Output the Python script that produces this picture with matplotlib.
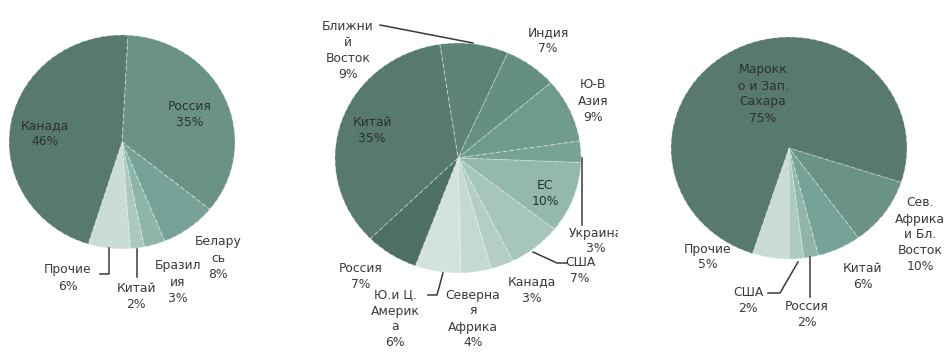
import matplotlib
matplotlib.use("Agg")
import matplotlib.pyplot as plt
from matplotlib.lines import Line2D
from matplotlib.transforms import Bbox

W, H = 949, 356
DPI = 100

# ---- data -------------------------------------------------------------
pie1_names = ["Россия", "Белару\nсь", "Бразил\nия", "Китай", "Прочие", "Канада"]
pie1_values = [35, 8, 3, 2, 6, 46]
pie1_colors = ["#6a9286", "#76a297", "#8db5aa", "#acc9c0", "#cbdcd6", "#587a6e"]

pie2_names = ["Ближни\nй\nВосток", "Индия", "Ю-В\nАзия", "Украина", "ЕС", "США",
              "Канада", "Северна\nя\nАфрика", "Ю.и Ц.\nАмерик\nа", "Россия", "Китай"]
pie2_values = [9, 7, 9, 3, 10, 7, 3, 4, 6, 7, 35]
pie2_colors = ["#5d8377", "#658f82", "#6e9b8e", "#76a396", "#93b8ad", "#a6c5bc",
               "#b4cec6", "#c4d9d2", "#d4e2dd", "#4e6f63", "#587a6e"]

pie3_names = ["Сев.\nАфрика\nи Бл.\nВосток", "Китай", "Россия", "США", "Прочие",
              "Марокк\nо и Зап.\nСахара"]
pie3_values = [10, 6, 2, 2, 5, 75]
pie3_colors = ["#6a9286", "#76a397", "#90b6ab", "#aecbc2", "#c9dbd5", "#587a6e"]

fig = plt.figure(figsize=(W / DPI, H / DPI), dpi=DPI)
fig.patch.set_facecolor("white")

PAD = 1.03


def pie_axes(cx, cy, rx, ry):
    """Axes (in pixel layout) holding a unit pie stretched to rx by ry pixels."""
    ax = fig.add_axes([(cx - rx * PAD) / W, (H - cy - ry * PAD) / H,
                       2 * rx * PAD / W, 2 * ry * PAD / H])
    return ax


def draw_pie(ax, values, colors, start):
    ax.pie(values, colors=colors, startangle=start, counterclock=False, radius=1,
           wedgeprops=dict(edgecolor=(1, 1, 1, 0.45), linewidth=0.7,
                           linestyle=(0, (4, 3))))
    ax.set_aspect("auto")
    ax.set_xlim(-PAD, PAD)
    ax.set_ylim(-PAD, PAD)
    ax.axis("off")


def label(x, y, text, inside=False, clip_right=None):
    t = fig.text(x / W, 1 - y / H, text, ha="center", va="center",
                 fontsize=8.9, family="DejaVu Sans", linespacing=1.3,
                 color="#2b302d" if inside else "#3a3a3a")
    if clip_right is not None:
        t.set_clip_box(Bbox.from_extents(0, 0, clip_right, H))
        t.set_clip_on(True)
    return t


def leader(xs, ys):
    fig.add_artist(Line2D([x / W for x in xs], [1 - y / H for y in ys],
                          transform=fig.transFigure, color="#3a3a3a", lw=1.1))


def text_of(names, values, i):
    return f"{names[i]}\n{values[i]}%"


# ---- pie 1 ------------------------------------------------------------
ax1 = pie_axes(122, 142, 113, 107)
draw_pie(ax1, pie1_values, pie1_colors, 87)
pos1 = [(190, 114, True), (218, 258, False), (178, 282, False),
        (136, 297, False), (68, 278, False), (45, 134, True)]
for i, (x, y, inside) in enumerate(pos1):
    label(x, y, text_of(pie1_names, pie1_values, i), inside)
leader([137, 137], [249, 277])
leader([109, 109, 100], [248, 274, 274])

# ---- pie 2 ------------------------------------------------------------
ax2 = pie_axes(458, 158, 123, 115)
draw_pie(ax2, pie2_values, pie2_colors, 98.5)
pos2 = [(348, 51, False), (548, 41, False), (593, 101, False), (596, 241, False),
        (545, 193, True), (580, 270, False), (532, 290, False), (473, 319, False),
        (395, 319, False), (361, 276, False), (372, 131, True)]
for i, (x, y, inside) in enumerate(pos2):
    clip = 618 if pie2_names[i] == "Украина" else None
    label(x, y, text_of(pie2_names, pie2_values, i), inside, clip_right=clip)
leader([380, 473], [25, 43])
leader([582, 582], [158, 225])
leader([533, 557, 567], [252, 263, 263])
leader([443, 437, 428], [273, 295, 295])

# ---- pie 3 ------------------------------------------------------------
ax3 = pie_axes(789, 148, 118, 111)
draw_pie(ax3, pie3_values, pie3_colors, -18)
pos3 = [(920, 235, False), (863, 276, False), (807, 315, False),
        (748, 300, False), (708, 257, False), (763, 94, True)]
for i, (x, y, inside) in enumerate(pos3):
    label(x, y, text_of(pie3_names, pie3_values, i), inside)
leader([810, 810], [257, 297])
leader([798, 780, 768], [262, 293, 293])

fig.savefig("out.png", dpi=DPI, facecolor="white")
